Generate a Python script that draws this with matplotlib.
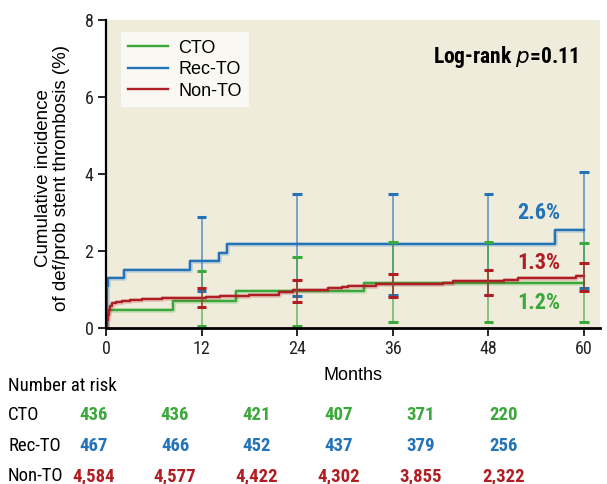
import matplotlib
matplotlib.use("Agg")
import matplotlib.pyplot as plt

# Kaplan-Meier style step data (months, cumulative incidence %)
cto_t = [0, 0.05, 8.4, 16.3, 32.4, 60]
cto_y = [0, 0.48, 0.70, 0.95, 1.18, 1.18]

rec_t = [0, 0.08, 0.3, 2.3, 10.6, 14.2, 15.2, 56.3, 60]
rec_y = [0, 1.10, 1.31, 1.51, 1.73, 1.96, 2.17, 2.55, 2.55]

non_t = [0, 0.1, 0.2, 0.35, 0.5, 0.7, 1.2, 2.0, 3.0, 4.5, 7.0, 10.0, 12.5,
         14.3, 17.9, 21.7, 23.5, 27.8, 29.6, 30.4, 33.9, 42.3, 43.5, 49.9,
         51.7, 59.0, 60]
non_y = [0, 0.20, 0.35, 0.47, 0.56, 0.64, 0.67, 0.70, 0.72, 0.75, 0.77, 0.79,
         0.81, 0.83, 0.87, 0.93, 0.99, 1.04, 1.07, 1.10, 1.13, 1.17, 1.21,
         1.25, 1.30, 1.34, 1.34]

# 95% CI bars at yearly landmarks
ci_months = [12, 24, 36, 48, 60]
cto_lo = [0.05, 0.06, 0.16, 0.16, 0.16]
cto_hi = [1.49, 1.84, 2.23, 2.24, 2.21]
rec_lo = [0.97, 0.84, 0.86, 0.85, 1.05]
rec_hi = [2.89, 3.48, 3.48, 3.49, 4.05]
non_lo = [0.55, 0.68, 0.81, 0.86, 0.97]
non_hi = [1.04, 1.25, 1.41, 1.51, 1.70]

groups = ["CTO", "Rec-TO", "Non-TO"]
risk_cto = ["436", "436", "421", "407", "371", "220"]
risk_rec = ["467", "466", "452", "437", "379", "256"]
risk_non = ["4,584", "4,577", "4,422", "4,302", "3,855", "2,322"]

GREEN = "#3aa83a"
BLUE = "#2473b9"
RED = "#b01e23"
BG = "#f0ecdc"

COND = ["Liberation Sans Narrow", "DejaVu Sans Condensed", "Roboto Condensed",
        "Liberation Sans", "DejaVu Sans"]
PLAIN = ["Liberation Sans", "DejaVu Sans"]

fig = plt.figure(figsize=(6.07, 4.84), dpi=100)
ax = fig.add_axes([106 / 607, 156 / 484, 494 / 607, 308 / 484])
ax.set_facecolor(BG)

curves = [(cto_t, cto_y, GREEN, "CTO"),
          (rec_t, rec_y, BLUE, "Rec-TO"),
          (non_t, non_y, RED, "Non-TO")]
for t, y, c, name in curves:
    ax.step(t, y, where="post", color=c, lw=3.5, alpha=0.2, solid_capstyle="butt")
    ax.step(t, y, where="post", color=c, lw=1.7, label=name)

cap = 0.6
for lo, hi, c in [(rec_lo, rec_hi, BLUE), (cto_lo, cto_hi, GREEN), (non_lo, non_hi, RED)]:
    ax.vlines(ci_months, lo, hi, color=c, lw=1.4, alpha=0.6)
    ax.hlines(lo, [m - cap for m in ci_months], [m + cap for m in ci_months], color=c, lw=2.2)
    ax.hlines(hi, [m - cap for m in ci_months], [m + cap for m in ci_months], color=c, lw=2.2)

ax.set_xlim(0, 62)
ax.set_ylim(0, 8)
ax.set_xticks([0, 12, 24, 36, 48, 60])
ax.set_yticks([0, 2, 4, 6, 8])
ax.spines["top"].set_visible(False)
ax.spines["right"].set_visible(False)
ax.spines["left"].set_linewidth(1.6)
ax.spines["bottom"].set_linewidth(2.0)
ax.tick_params(direction="out", length=6, width=1.2, labelsize=13, pad=3)
for lab in ax.get_xticklabels() + ax.get_yticklabels():
    lab.set_family(COND)
    lab.set_color("#222222")

ax.set_xlabel("Months", fontsize=13, family=PLAIN)
ax.xaxis.set_label_coords(0.5, -0.125)
ax.set_ylabel("Cumulative incidence\nof def/prob stent thrombosis (%)",
              fontsize=13.5, family=PLAIN, linespacing=1.05)
ax.yaxis.set_label_coords(-0.073, 0.487)

leg = ax.legend(loc="upper left", bbox_to_anchor=(0.03, 0.96), frameon=True,
                fancybox=False, edgecolor="none", facecolor="#f9f8f2", framealpha=1,
                prop={"family": PLAIN, "size": 13}, handlelength=2.2,
                handletextpad=0.6, labelspacing=0.25, borderpad=0.4,
                borderaxespad=0)

ax.text(0.955, 0.88, r"Log-rank $\mathit{p}$=0.11", transform=ax.transAxes,
        ha="right", va="center", fontsize=15.5, fontweight="bold", family=COND)

ax.text(57, 2.98, "2.6%", color=BLUE, fontsize=16, fontweight="bold",
        ha="right", va="center", family=COND)
ax.text(57, 1.68, "1.3%", color=RED, fontsize=16, fontweight="bold",
        ha="right", va="center", family=COND)
ax.text(57, 0.65, "1.2%", color=GREEN, fontsize=16, fontweight="bold",
        ha="right", va="center", family=COND)

# number-at-risk table below the axis
col_x = [94, 175, 257, 339, 421, 504]
row_y = [415, 446, 476]
fig.text(8 / 607, 1 - 386 / 484, "Number at risk", fontsize=13.5, family=COND,
         va="center", ha="left")
for yy, name, vals, c in zip(row_y, groups, [risk_cto, risk_rec, risk_non],
                             [GREEN, BLUE, RED]):
    fig.text(8 / 607, 1 - yy / 484, name, fontsize=13.5, family=COND,
             va="center", ha="left")
    for xx, v in zip(col_x, vals):
        fig.text(xx / 607, 1 - yy / 484, v, fontsize=13.5, family=COND,
                 fontweight="bold", color=c, va="center", ha="center")

fig.savefig("out.png", dpi=100)
